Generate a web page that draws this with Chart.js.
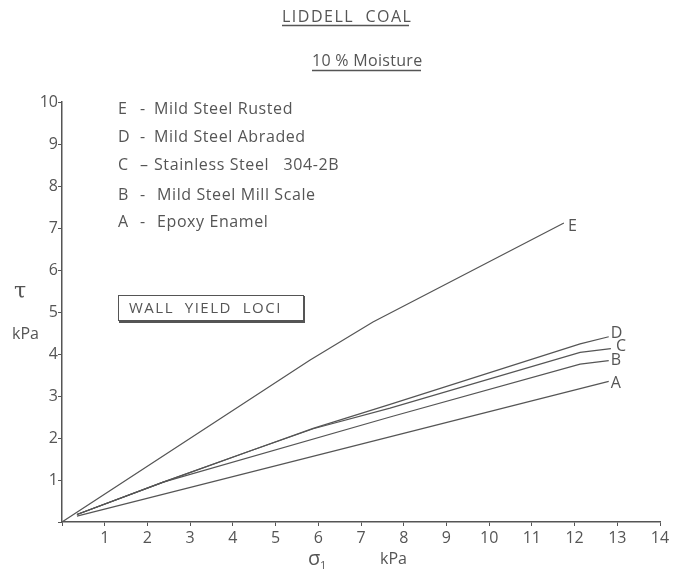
<!DOCTYPE html>
<html>
<head>
<meta charset="utf-8">
<script src="https://cdn.jsdelivr.net/npm/chart.js@4"></script>
<style>
  html, body { margin: 0; padding: 0; background: #ffffff; }
  #wrap { width: 677px; height: 570px; position: relative; }
</style>
</head>
<body>
<div id="wrap"><canvas id="yield-chart"></canvas></div>
<script>
// Wall yield loci (sigma in kPa, tau in kPa)
const xE = [0, 5.8, 7.28, 11.75];
const yE = [0, 3.85, 4.76, 7.12];
const xD = [0.35, 2.37, 4.4, 5.88, 7.68, 12.13, 12.8];
const yD = [0.18, 0.95, 1.69, 2.23, 2.8, 4.24, 4.41];
const xC = [0.35, 2.37, 4.4, 5.88, 7.68, 12.13, 12.85];
const yC = [0.18, 0.95, 1.69, 2.22, 2.71, 4.04, 4.13];
const xB = [0.35, 2.37, 7.68, 12.13, 12.8];
const yB = [0.18, 0.95, 2.5, 3.76, 3.84];
const xA = [0.35, 12.8];
const yA = [0.14, 3.35];

const seriesNames = ['E', 'D', 'C', 'B', 'A'];
const legendText = [
    'Mild Steel Rusted',
    'Mild Steel Abraded',
    'Stainless Steel   304-2B',
    'Mild Steel Mill Scale',
    'Epoxy Enamel'
];
const xTicks = [1, 2, 3, 4, 5, 6, 7, 8, 9, 10, 11, 12, 13, 14];
const yTicks = [1, 2, 3, 4, 5, 6, 7, 8, 9, 10];

const ink = '#555555';
const fontName = '"Open Sans", "DejaVu Sans", sans-serif';

function toPoints(xs, ys){
    let pts = [];
    for(let i=0; i<xs.length; i++){
        pts.push({x: xs[i], y: ys[i]});
    }
    return pts;
}

const allX = [xE, xD, xC, xB, xA];
const allY = [yE, yD, yC, yB, yA];

let datasets = [];
for(let i=0; i<seriesNames.length; i++){
    datasets.push({
        label: seriesNames[i],
        data: toPoints(allX[i], allY[i]),
        showLine: true,
        borderColor: ink,
        borderWidth: 1.2,
        pointRadius: 0,
        fill: false,
        tension: 0
    });
}

// end label offsets (px) so the letters sit beside each line end
const endOffsets = [[4, 3], [2, -3], [5, -2], [2, 0], [2, 2]];

const annotations = {
    id: 'annotations',
    afterDraw(chart){
        const ctx = chart.ctx;
        const xs = chart.scales.x;
        const ys = chart.scales.y;
        ctx.save();
        ctx.fillStyle = ink;
        ctx.strokeStyle = ink;

        // titles
        ctx.font = '16px ' + fontName;
        ctx.textBaseline = 'alphabetic';
        ctx.textAlign = 'left';
        ctx.letterSpacing = '1.5px';
        ctx.fillText('LIDDELL  COAL', 282, 22);
        ctx.letterSpacing = '0.3px';
        ctx.fillText('10 % Moisture', 312, 66);
        ctx.letterSpacing = '0px';
        ctx.lineWidth = 1.5;
        ctx.beginPath();
        ctx.moveTo(282, 25.5); ctx.lineTo(409, 25.5);
        ctx.moveTo(312, 70.5); ctx.lineTo(421, 70.5);
        ctx.stroke();

        // legend block
        const legendY = [109, 137, 165, 195, 222];
        const textX = [154, 154, 154, 157, 157];
        ctx.font = '16px ' + fontName;
        ctx.textBaseline = 'middle';
        for(let i=0; i<seriesNames.length; i++){
            ctx.fillText(seriesNames[i], 118, legendY[i]);
            ctx.fillText(i == 2 ? '\u2013' : '-', 140, legendY[i]);
            ctx.letterSpacing = '0.6px';
            ctx.fillText(legendText[i], textX[i], legendY[i]);
            ctx.letterSpacing = '0px';
        }

        // boxed label
        ctx.lineWidth = 1;
        ctx.strokeRect(118.5, 295.5, 185, 25);
        ctx.lineWidth = 2;
        ctx.beginPath();
        ctx.moveTo(304, 296); ctx.lineTo(304, 322); ctx.lineTo(119, 322);
        ctx.stroke();
        ctx.font = '15px ' + fontName;
        ctx.letterSpacing = '1.5px';
        ctx.fillText('WALL  YIELD  LOCI', 129, 309);
        ctx.letterSpacing = '0px';

        // line end letters
        ctx.font = '16px ' + fontName;
        for(let i=0; i<seriesNames.length; i++){
            const n = allX[i].length - 1;
            const px = xs.getPixelForValue(allX[i][n]);
            const py = ys.getPixelForValue(allY[i][n]);
            ctx.fillText(seriesNames[i], px + endOffsets[i][0], py + endOffsets[i][1]);
        }

        // axis titles
        ctx.font = '22px "DejaVu Serif", serif';
        ctx.fillText('\u03C4', 14, 292);
        ctx.font = '16px ' + fontName;
        ctx.fillText('kPa', 12, 334);
        ctx.font = '20px ' + fontName;
        ctx.fillText('\u03C3', 308, 559);
        ctx.font = '11px ' + fontName;
        ctx.fillText('1', 320, 566);
        ctx.font = '16px ' + fontName;
        ctx.fillText('kPa', 380, 559);

        ctx.restore();
    }
};

const chartEl = document.getElementById('yield-chart');
const yieldChart = new Chart(chartEl, {
    type: 'scatter',
    data: {datasets: datasets},
    plugins: [annotations],
    options: {
        responsive: true,
        maintainAspectRatio: false,
        animation: false,
        layout: {padding: {top: 102, right: 17, left: 0, bottom: 0}},
        plugins: {
            legend: {display: false},
            tooltip: {enabled: false}
        },
        scales: {
            x: {
                type: 'linear',
                min: 0,
                max: 14,
                afterFit: function(s){ s.height = 48; },
                afterBuildTicks: function(s){ s.ticks = [{value: 0}].concat(xTicks.map(v => ({value: v}))); },
                border: {display: true, color: ink, width: 1.5},
                grid: {drawOnChartArea: false, drawTicks: true, tickLength: 4, color: ink},
                ticks: {
                    color: ink,
                    padding: 3,
                    font: {family: fontName, size: 16},
                    callback: v => (v === 0 ? '' : String(v))
                }
            },
            y: {
                type: 'linear',
                min: 0,
                max: 10,
                afterFit: function(s){ s.width = 62; },
                afterBuildTicks: function(s){ s.ticks = [{value: 0}].concat(yTicks.map(v => ({value: v}))); },
                border: {display: true, color: ink, width: 1.5},
                grid: {drawOnChartArea: false, drawTicks: true, tickLength: 4, color: ink},
                ticks: {
                    color: ink,
                    padding: 0,
                    font: {family: fontName, size: 16},
                    callback: v => (v === 0 ? '' : String(v))
                }
            }
        }
    }
});
</script>
</body>
</html>
